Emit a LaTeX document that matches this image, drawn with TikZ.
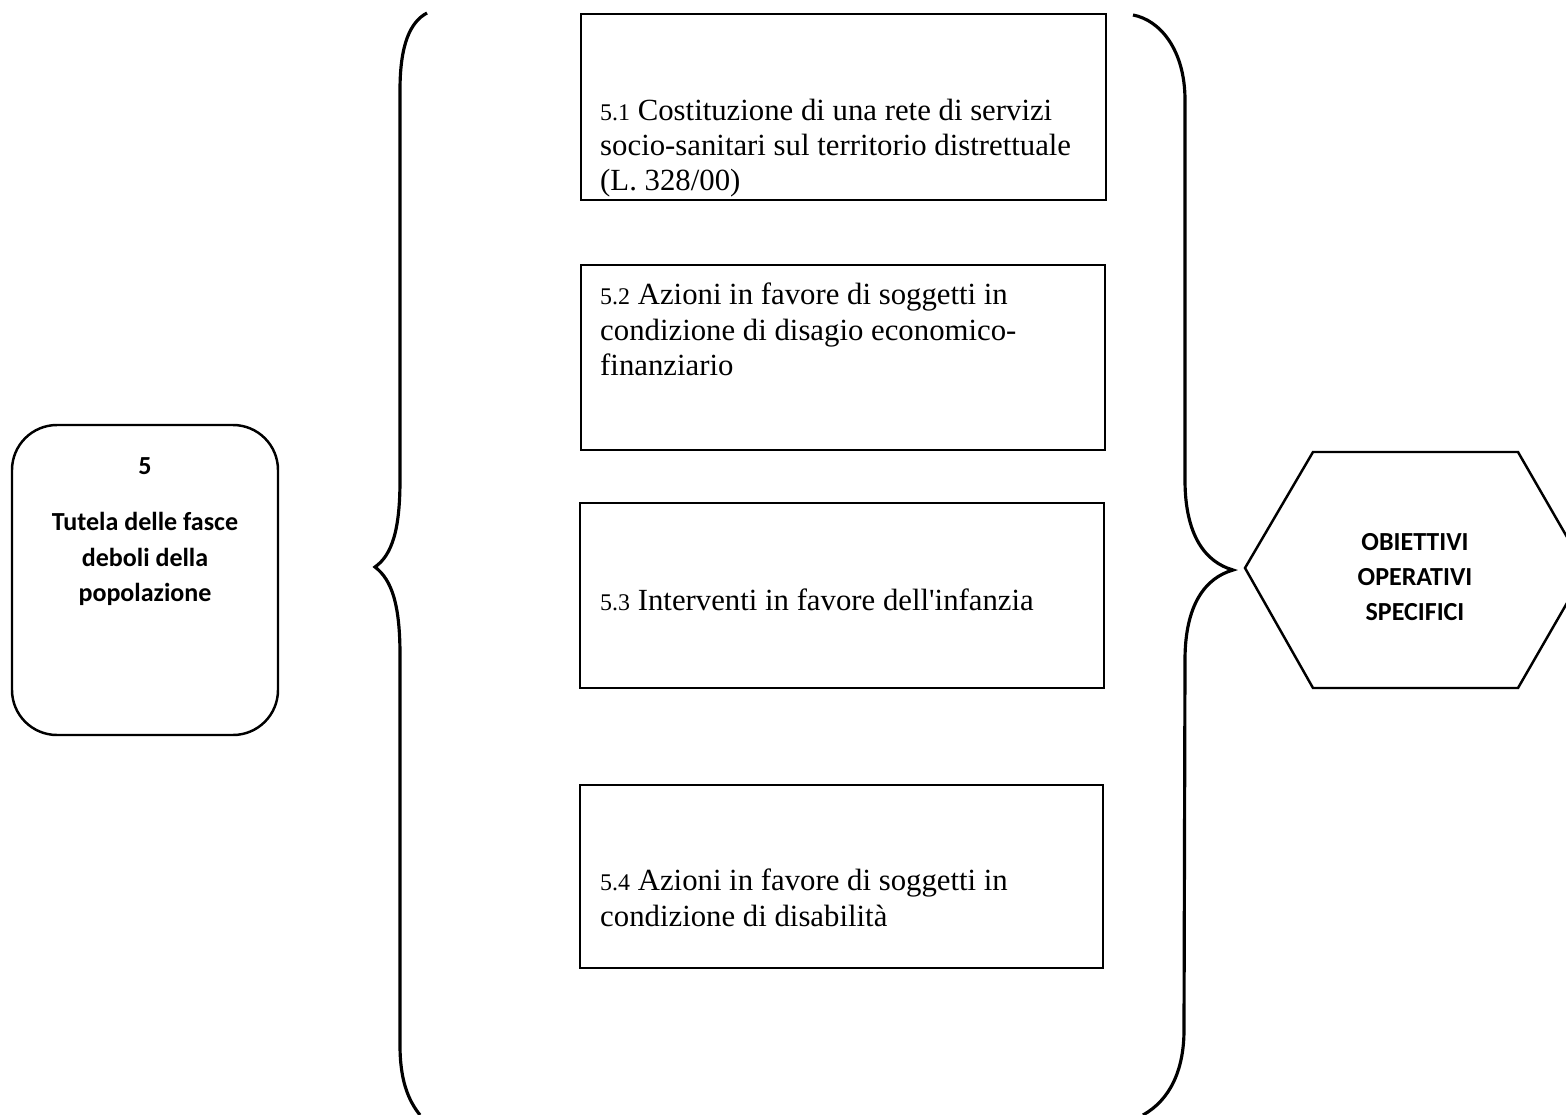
\documentclass[tikz,border=0pt]{standalone}
\usepackage{fontspec}
\setmainfont{Liberation Serif}
\newfontfamily\calibri{Carlito}
\usetikzlibrary{calc}

\newcommand{\onum}[1]{{\fontsize{6.8}{10}\selectfont #1}}

\begin{document}
\begin{tikzpicture}[x=0.01cm,y=-0.01cm,line width=0.7pt,every node/.style={inner sep=0pt},
  obtext/.style={anchor=north west,align=left,font=\fontsize{8.75}{10}\selectfont},
  caltext/.style={align=center,font=\calibri\bfseries\fontsize{7.4}{10}\selectfont},
  brace/.style={line width=0.9pt}]

\path[use as bounding box] (0,0) rectangle (1566,1115);
\clip (0,0) rectangle (1566,1115);

% area di intervento
\draw[rounded corners=0.45cm] (12,425) rectangle (278,735);
\node[caltext] (n5) at (145,466) {5};
\node[caltext] (tutela) at (145,559) {Tutela delle fasce\\deboli della\\popolazione};

% graffe
\draw[brace] (427,13) .. controls (410,22) and (400,45) .. (400,90) -- (400,480) .. controls (400,530) and (392,555) .. (375,567) .. controls (392,580) and (400,605) .. (400,655) -- (400,1045) .. controls (400,1080) and (408,1100) .. (420,1115);
\draw[brace] (1133,15) .. controls (1160,20) and (1185,50) .. (1185,100) -- (1185,480) .. controls (1185,535) and (1205,562) .. (1233,570) .. controls (1205,578) and (1185,605) .. (1185,660) -- (1184,1030) .. controls (1184,1070) and (1170,1100) .. (1143,1115);

% obiettivi
\draw (581,14) rectangle (1106,200);
\node[obtext] (o51) at (599,98) {\onum{5.1} Costituzione di una rete di servizi\\socio-sanitari sul territorio distrettuale\\(L. 328/00)};
\draw (581,265) rectangle (1105,450);
\node[obtext] (o52) at (599,282) {\onum{5.2} Azioni in favore di soggetti in\\condizione di disagio economico-\\finanziario};
\draw (580,503) rectangle (1104,688);
\node[obtext] (o53) at (599,588) {\onum{5.3} Interventi in favore dell\textquotesingle infanzia};
\draw (580,785) rectangle (1103,968);
\node[obtext] (o54) at (599,868) {\onum{5.4} Azioni in favore di soggetti in\\condizione di disabilità};

% esagono
\draw (1245,568) -- (1313,452) -- (1518,452) -- (1586,570) -- (1518,688) -- (1313,688) -- cycle;
\node[caltext] (obj) at (1415,577) {OBIETTIVI\\OPERATIVI\\SPECIFICI};

\end{tikzpicture}
\end{document}
